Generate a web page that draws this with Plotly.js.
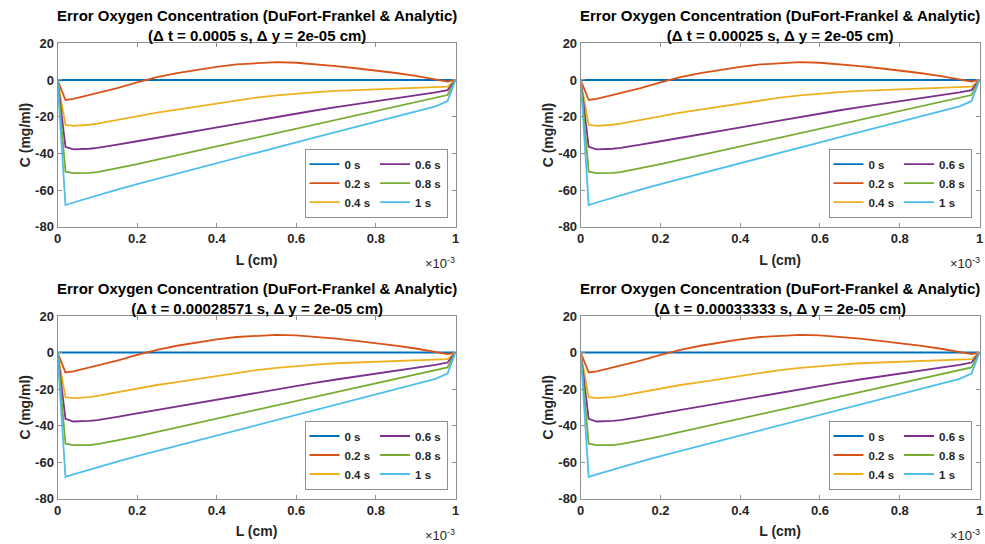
<!DOCTYPE html>
<html><head><meta charset="utf-8">
<script src="https://cdn.plot.ly/plotly-3.0.1.min.js"></script>
<style>html,body{margin:0;padding:0;background:#fff;} #chart{width:985px;height:544px;}</style>
</head><body><div id="chart"></div>
<script>
// Position along slab, in units of 1e-3 cm
const xL = [0, 0.02, 0.04, 0.06, 0.08, 0.1, 0.12, 0.15, 0.2, 0.25, 0.3, 0.35, 0.4, 0.45, 0.5, 0.55, 0.6, 0.65, 0.7, 0.75, 0.8, 0.85, 0.9, 0.95, 0.98, 1];
// Error in concentration (mg/ml) at each time
const err0s  = [0, 0, 0, 0, 0, 0, 0, 0, 0, 0, 0, 0, 0, 0, 0, 0, 0, 0, 0, 0, 0, 0, 0, 0, 0, 0];
const err02s = [0, -10.9, -10.3, -9.3, -8.3, -7.2, -6.1, -4.5, -1.3, 1.5, 3.7, 5.5, 7.2, 8.5, 9.3, 9.7, 9.4, 8.6, 7.6, 6.4, 5.2, 3.8, 2.2, 0.5, -0.9, 0];
const err04s = [0, -24.5, -25.0, -24.9, -24.4, -23.8, -23.0, -21.7, -19.6, -17.8, -16.2, -14.5, -12.7, -11.0, -9.6, -8.4, -7.4, -6.6, -5.9, -5.5, -5.2, -4.8, -4.4, -4.0, -3.6, 0];
const err06s = [0, -36.4, -37.8, -37.8, -37.5, -37.0, -36.4, -35.3, -33.4, -31.5, -29.6, -27.6, -25.7, -23.8, -21.9, -20.0, -18.2, -16.5, -14.8, -13.2, -11.7, -10.1, -8.5, -6.8, -5.5, 0];
const err08s = [0, -50.0, -50.8, -50.9, -50.7, -50.2, -49.5, -48.1, -45.9, -43.5, -41.1, -38.7, -36.3, -33.9, -31.5, -29.1, -26.7, -24.2, -21.8, -19.4, -17.0, -14.6, -12.2, -9.8, -8.2, 0];
const err1s  = [0, -68.2, -66.8, -65.5, -64.1, -62.8, -61.6, -59.8, -56.8, -54.0, -51.0, -48.2, -45.4, -42.6, -39.8, -36.9, -34.0, -31.2, -28.4, -25.6, -22.8, -20.0, -17.2, -14.4, -11.5, 0];

const seriesNames = ['0 s', '0.2 s', '0.4 s', '0.6 s', '0.8 s', '1 s'];
const seriesData = [err0s, err02s, err04s, err06s, err08s, err1s];
const seriesColors = ['#0072BD', '#D95319', '#EDB120', '#7E2F8E', '#77AC30', '#4DBEEE'];

const titleLine1 = 'Error Oxygen Concentration (DuFort-Frankel &amp; Analytic)';
const panelDt = ['0.0005', '0.00025', '0.00028571', '0.00033333'];
const panelDy = '2e-05';

const xTickVals = [0, 0.2, 0.4, 0.6, 0.8, 1];
const xTickText = ['0', '0.2', '0.4', '0.6', '0.8', '1'];
const yTickVals = [-80, -60, -40, -20, 0, 20];
const yTickText = ['-80', '-60', '-40', '-20', '0', '20'];

const W = 985, H = 544;
const panelsPx = [
  {l: 57.5, r: 455.5, t: 43.3, b: 226.7},
  {l: 580.7, r: 979.5, t: 43.3, b: 226.7},
  {l: 57.5, r: 455.5, t: 316, b: 498.5},
  {l: 580.7, r: 979.5, t: 316, b: 498.5}
];

const FONT = 'Liberation Sans, Arial, sans-serif';
const TXT = '#262626';
const AXC = '#8f8f8f';

const traces = [];
const layout = {
  width: W, height: H,
  margin: {l: 0, r: 0, t: 0, b: 0},
  paper_bgcolor: '#fff', plot_bgcolor: '#fff',
  font: {family: FONT, color: TXT, size: 12},
  annotations: []
};

panelsPx.forEach((p, i) => {
  const n = i === 0 ? '' : String(i + 1);
  const xa = 'x' + n, ya = 'y' + n;
  const lg = 'legend' + n;
  seriesData.forEach((ys, s) => {
    traces.push({
      type: 'scatter', mode: 'lines',
      x: xL, y: ys,
      xaxis: xa, yaxis: ya,
      name: seriesNames[s],
      legend: lg,
      legendgroup: 'p' + i + 'c' + (s < 3 ? 1 : 2),
      line: {color: seriesColors[s], width: 1.8},
      hoverinfo: 'x+y+name'
    });
  });
  const axCommon = {
    ticks: 'inside', ticklen: 4, tickcolor: AXC, tickwidth: 1,
    showline: true, linecolor: AXC, linewidth: 1, mirror: 'ticks',
    showgrid: false, zeroline: false,
    tickfont: {family: FONT, size: 13, weight: 'bold', color: TXT}
  };
  layout['xaxis' + n] = Object.assign({}, axCommon, {
    domain: [p.l / W, p.r / W], anchor: ya, range: [0, 1],
    tickmode: 'array', tickvals: xTickVals, ticktext: xTickText,
    title: {text: 'L (cm)', font: {family: FONT, size: 14, weight: 'bold', color: TXT}, standoff: 9}
  });
  layout['yaxis' + n] = Object.assign({}, axCommon, {
    domain: [1 - p.b / H, 1 - p.t / H], anchor: xa, range: [-80, 20],
    tickmode: 'array', tickvals: yTickVals, ticktext: yTickText,
    title: {text: 'C (mg/ml)', font: {family: FONT, size: 14, weight: 'bold', color: TXT}, standoff: 1}
  });
  layout[lg] = {
    orientation: 'h', traceorder: 'grouped', tracegroupgap: 0,
    x: (p.r - 8) / W, xanchor: 'right',
    y: 1 - (p.b - 9) / H, yanchor: 'bottom',
    bgcolor: '#fff', bordercolor: AXC, borderwidth: 1,
    itemwidth: 30,
    font: {family: FONT, size: 11.5, weight: 'bold', color: TXT}
  };
  layout.annotations.push({
    xref: xa + ' domain', yref: ya + ' domain', x: 0.5, y: 1,
    xanchor: 'center', yanchor: 'bottom', yshift: -3, showarrow: false,
    text: titleLine1 + '<br>(\u0394 t = ' + panelDt[i] + ' s, \u0394 y = ' + panelDy + ' cm)',
    font: {family: FONT, size: 15, weight: 'bold', color: '#000'}
  });
  layout.annotations.push({
    xref: xa + ' domain', yref: ya + ' domain', x: 1, y: 0,
    xanchor: 'right', yanchor: 'top', yshift: -26, xshift: 2, showarrow: false,
    text: '\u00d710<sup>-3</sup>',
    font: {family: FONT, size: 13, color: TXT}
  });
});

Plotly.newPlot('chart', traces, layout, {displayModeBar: false});
</script>
</body></html>
